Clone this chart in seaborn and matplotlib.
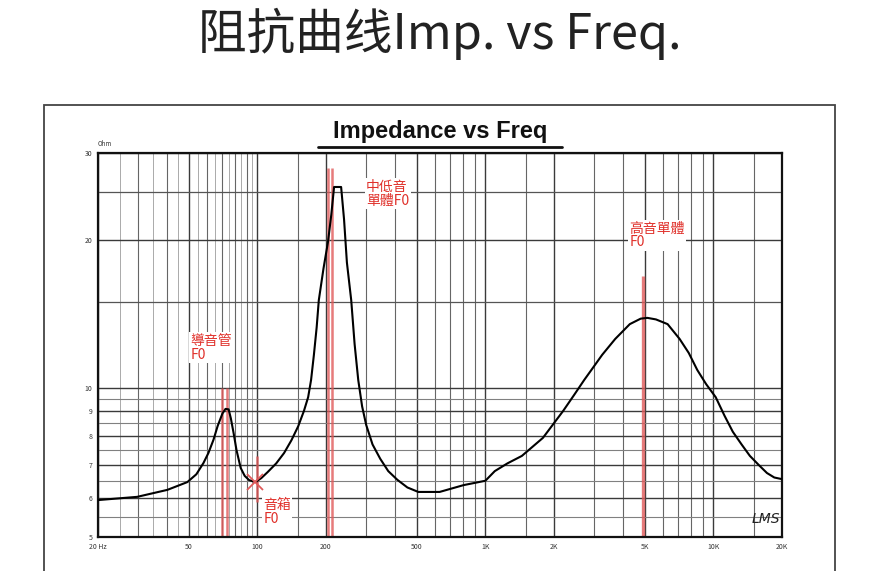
import matplotlib
matplotlib.use('Agg')
import matplotlib.pyplot as plt
import seaborn as sns
import pandas as pd
from matplotlib.lines import Line2D
from matplotlib.patches import Rectangle

# impedance curve (Hz, ohm)
freq = [20, 29.7, 40.3, 49.3, 54, 58, 61, 64.2, 67, 70.3, 72.5, 74.8, 76.5,
        78.7, 81, 84.5, 88, 92, 98, 104, 111, 121, 131, 141, 151, 160, 167,
        172, 177, 182, 186, 195, 204, 211, 217, 233, 240, 247, 258, 267, 277,
        288, 300, 320, 346, 375, 411, 455, 508, 630, 803, 983, 1000, 1100,
        1250, 1446, 1788, 2192, 2450, 2712, 3000, 3254, 3712, 4300, 4800,
        5138, 5600, 6300, 7110, 7800, 8500, 9300, 10240, 11200, 12170, 13300,
        14460, 15800, 17180, 18500, 20000]
ohm = [5.94, 6.03, 6.23, 6.46, 6.7, 7.06, 7.4, 7.87, 8.4, 8.9, 9.09, 9.07, 8.7,
       8.11, 7.5, 6.9, 6.65, 6.52, 6.46, 6.58, 6.77, 7.05, 7.4, 7.85, 8.38, 9.0, 9.6,
       10.4, 11.7, 13.3, 15.1, 17.5, 19.8, 22.5, 25.6, 25.6, 22.0, 18.0, 15.1, 12.3, 10.4,
       9.2, 8.44, 7.7, 7.2, 6.8, 6.53, 6.3, 6.17, 6.17, 6.37, 6.49, 6.5, 6.8,
       7.05, 7.3, 7.94, 9.0, 9.7, 10.4, 11.1, 11.7, 12.6, 13.5, 13.85,
       13.9, 13.8, 13.5, 12.6, 11.8, 10.9, 10.2, 9.6, 8.8, 8.17, 7.7,
       7.3, 7.0, 6.74, 6.6, 6.55]

x_ticks = [20, 50, 100, 200, 500, 1000, 2000, 5000, 10000, 20000]
x_labels = ['20 Hz', '50', '100', '200', '500', '1K', '2K', '5K', '10K', '20K']
x_mid = [30, 40, 60, 70, 80, 90, 150, 300, 400, 600, 700, 800, 900,
         1500, 3000, 4000, 6000, 7000, 8000, 9000, 15000]
x_light = [25, 35, 45, 55, 65, 75, 85, 95]

y_ticks = [5, 6, 7, 8, 9, 10, 20, 30]
y_labels = ['5', '6', '7', '8', '9', '10', '20', '30']
y_mid = [15, 25]
y_light = [5.5, 6.5, 7.5, 8.5, 9.5]

# red F0 markers
pipe_f0 = [70, 73.5]
mid_f0 = [204, 213]
tweeter_f0 = [4930]
box_f0 = 98

sns.set_theme(style='white')
plt.rcParams['font.family'] = ['Noto Sans CJK TC', 'DejaVu Sans']

W, H = 876, 571
fig = plt.figure(figsize=(W / 100, H / 100), dpi=100)
ax = fig.add_axes([98 / W, 1 - 537 / H, (782 - 98) / W, (537 - 153) / H])

# page frame of the scan
fig.add_artist(Rectangle((44 / W, -0.05), (835 - 44) / W, 1 - 105 / H + 0.05,
                         transform=fig.transFigure, fill=False, lw=1.3, ec='#444444'))

fig.text(0.502, 0.940, '阻抗曲线Imp. vs Freq.', ha='center', va='center',
         fontsize=35, fontweight='light', color='#222222',
         family=['Noto Sans CJK SC', 'DejaVu Sans'])
fig.text(0.502, 0.770, 'Impedance vs Freq', ha='center', va='center',
         fontsize=17, fontweight='bold', color='#111111', family='Liberation Sans')
fig.add_artist(Line2D([318 / W, 562 / W], [1 - 147 / H] * 2,
                      transform=fig.transFigure, color='#111111', lw=2))

ax.set_xscale('log')
ax.set_yscale('log')
ax.set_xlim(20, 20000)
ax.set_ylim(5, 30)

for v in x_ticks:
    ax.axvline(v, color='#3a3a3a', lw=1.0, zorder=1)
for v in x_mid:
    ax.axvline(v, color='#666666', lw=0.8, zorder=1)
for v in x_light:
    ax.axvline(v, color='#aaaaaa', lw=0.7, zorder=1)
for v in y_ticks:
    ax.axhline(v, color='#3a3a3a', lw=1.0, zorder=1)
for v in y_mid:
    ax.axhline(v, color='#555555', lw=0.9, zorder=1)
for v in y_light:
    ax.axhline(v, color='#808080', lw=0.8, zorder=1)

red = '#e05a5a'
ax.vlines(pipe_f0, 5, 10, color=red, lw=1.8, alpha=0.8, zorder=2)
ax.vlines(mid_f0, 5, 28, color=red, lw=1.8, alpha=0.8, zorder=2)
ax.vlines(tweeter_f0, 5, 16.9, color=red, lw=2.4, alpha=0.8, zorder=2)
ax.vlines([box_f0 * 1.02], 5.9, 7.3, color=red, lw=1.8, alpha=0.8, zorder=2)

df = pd.DataFrame({'freq': freq, 'ohm': ohm})
sns.lineplot(data=df, x='freq', y='ohm', color='black', lw=1.5, ax=ax, zorder=3)
ax.plot([box_f0], [6.46], marker='x', color=red, ms=12, mew=1.3, zorder=4)

lbl = dict(color='#e0302a', fontsize=10, va='top', ha='left', linespacing=1.0,
           bbox=dict(fc='white', ec='none', pad=1), zorder=5)
ax.text(51, 12.9, '導音管\nF0', **lbl)
ax.text(106, 6.0, '音箱\nF0', **lbl)
ax.text(300, 26.5, '中低音\n單體F0', **lbl)
ax.text(4280, 21.8, '高音單體\nF0', **lbl)

ax.text(17000, 5.45, 'LMS', ha='center', va='center', fontsize=10,
        style='italic', color='#222222', family='DejaVu Sans', zorder=5)
ax.text(0.0, 1.012, 'Ohm', transform=ax.transAxes, fontsize=4.5,
        color='#333333', ha='left', va='bottom')

ax.set_xticks(x_ticks)
ax.set_xticklabels(x_labels, fontsize=5, color='#333333')
ax.set_xticks([], minor=True)
ax.set_yticks(y_ticks)
ax.set_yticklabels(y_labels, fontsize=5, color='#333333')
ax.set_yticks([], minor=True)
ax.tick_params(length=0, pad=4)
ax.set_xlabel('')
ax.set_ylabel('')
for s in ax.spines.values():
    s.set_color('#111111')
    s.set_linewidth(1.6)

fig.savefig('out.png', dpi=100)
